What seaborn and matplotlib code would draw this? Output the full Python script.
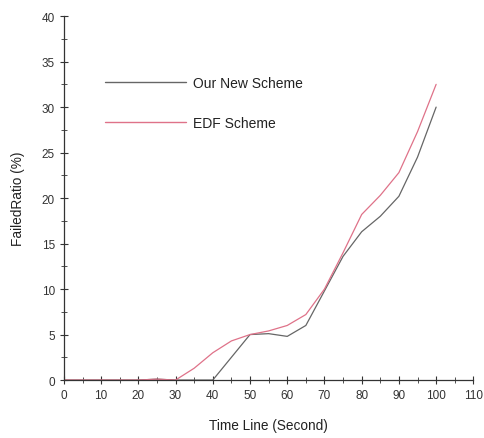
import pandas as pd
import seaborn as sns
import matplotlib
matplotlib.use("Agg")
import matplotlib.pyplot as plt
from matplotlib.ticker import MultipleLocator

time_s = [0, 5, 10, 15, 20, 25, 30, 35, 40, 45, 50, 55, 60, 65, 70, 75, 80, 85, 90, 95, 100]
our_new = [0, 0, 0, 0, 0, 0.1, 0, 0, 0, 2.5, 5.0, 5.1, 4.8, 6.0, 9.8, 13.6, 16.3, 18.0, 20.2, 24.5, 30.0]
edf = [0, 0, 0, 0, 0, 0.1, 0, 1.3, 3.0, 4.3, 5.0, 5.4, 6.0, 7.2, 10.0, 14.0, 18.2, 20.3, 22.8, 27.3, 32.5]

df = pd.DataFrame({
    "time": time_s * 2,
    "ratio": our_new + edf,
    "scheme": ["Our New Scheme"] * len(time_s) + ["EDF Scheme"] * len(time_s),
})

colors = {"Our New Scheme": "#666666", "EDF Scheme": "#df7289"}

sns.set_style("ticks")
plt.rcParams["font.family"] = ["Liberation Sans", "DejaVu Sans"]

fig = plt.figure(figsize=(4.84, 4.39), dpi=100)
ax = fig.add_axes([0.132, 0.132, 0.846, 0.829])

sns.lineplot(data=df, x="time", y="ratio", hue="scheme", palette=colors,
             linewidth=0.9, ax=ax)

ax.set_xlim(0, 110)
ax.set_ylim(0, 40)
ax.xaxis.set_major_locator(MultipleLocator(10))
ax.xaxis.set_minor_locator(MultipleLocator(5))
ax.yaxis.set_major_locator(MultipleLocator(5))
ax.yaxis.set_minor_locator(MultipleLocator(2.5))
ax.tick_params(which="major", direction="inout", length=6, width=0.8,
               labelsize=8.5, colors="#333333")
ax.tick_params(which="minor", direction="inout", length=4, width=0.6, colors="#333333")
for s in ["top", "right"]:
    ax.spines[s].set_visible(False)
for s in ["left", "bottom"]:
    ax.spines[s].set_color("#333333")
    ax.spines[s].set_linewidth(0.9)

ax.set_xlabel("Time Line (Second)", fontsize=9.8, color="#222222", labelpad=12)
ax.set_ylabel("FailedRatio (%)", fontsize=9.8, color="#222222", labelpad=12)

leg = ax.legend(loc="upper left", bbox_to_anchor=(0.07, 0.87), frameon=False,
                handlelength=5.8, handletextpad=0.5, labelspacing=1.9,
                fontsize=10)
for t in leg.get_texts():
    t.set_color("#222222")
for h, name in zip(leg.get_lines(), ["Our New Scheme", "EDF Scheme"]):
    h.set_color(colors[name])
    h.set_linewidth(1.0)

fig.savefig("out.png", dpi=100)
